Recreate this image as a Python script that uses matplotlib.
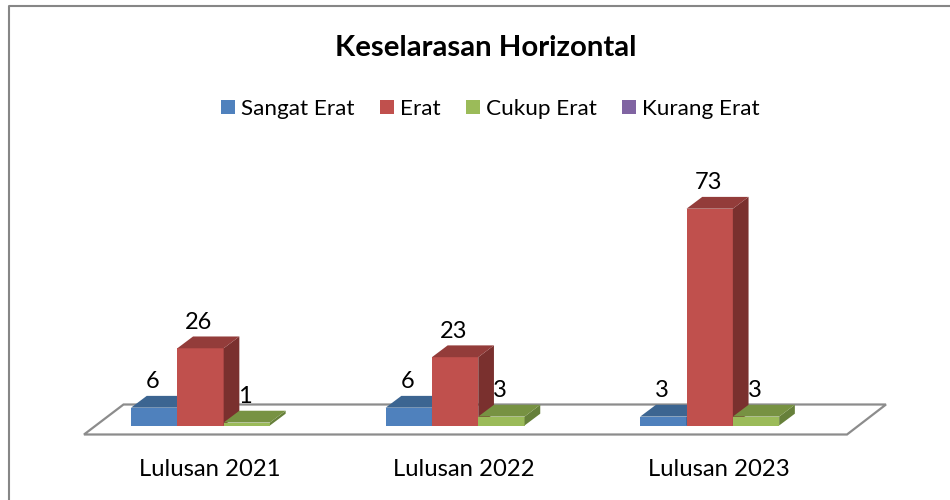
import matplotlib
matplotlib.use("Agg")
import matplotlib.pyplot as plt
from matplotlib.lines import Line2D
from matplotlib.patches import Polygon, Patch

categories = ["Lulusan 2021", "Lulusan 2022", "Lulusan 2023"]
sangat_erat = [6, 6, 3]
erat = [26, 23, 73]
cukup_erat = [1, 3, 3]
kurang_erat = [None, None, None]
title = "Keselarasan Horizontal"

W, H = 950, 500
X0, XS = 200.5, 254.6      # pixel of category 0, pixels per category
Y0, YS = 425.5, 2.97       # pixel of value 0, pixels per unit
BW = 46.3 / XS
DX, DY = 15.7 / XS, 11.8 / YS

series = [
    ("Sangat Erat", sangat_erat, "#4F81BD", "#3C6591", "#2F5078"),
    ("Erat", erat, "#C0504D", "#933C3A", "#7A302E"),
    ("Cukup Erat", cukup_erat, "#9BBB59", "#779242", "#66803A"),
    ("Kurang Erat", kurang_erat, "#8064A2", "#61497D", "#523E6A"),
]

plt.rcParams["font.family"] = ["Lato", "DejaVu Sans"]
fig = plt.figure(figsize=(W / 100, H / 100), dpi=100)
ax = fig.add_axes([0, 0, 1, 1])
ax.set_xlim((0 - X0) / XS, (W - X0) / XS)
ax.set_ylim((Y0 - H) / YS, Y0 / YS)
ax.axis("off")

# outer chart frame: only its left and top edges fall inside the picture
fig.add_artist(Line2D([9 / W, 9 / W, 1], [0, 1 - 6 / H, 1 - 6 / H],
                      transform=fig.transFigure, color="#868686", linewidth=1.5))

# floor
floor = [((84 - X0) / XS, (Y0 - 434.5) / YS), ((123.5 - X0) / XS, (Y0 - 404.5) / YS),
         ((886 - X0) / XS, (Y0 - 404.5) / YS), ((847 - X0) / XS, (Y0 - 434.5) / YS)]
ax.add_patch(Polygon(floor, closed=True, facecolor="white", edgecolor="#8C8C8C",
                     linewidth=1.6, zorder=1))

z = 2
for g, cat in enumerate(categories):
    for s, (name, vals, front, top, side) in enumerate(series[:3]):
        v = vals[g]
        x = g + (s - 1.5) * BW
        ax.bar(x, v, width=BW, align="edge", color=front, linewidth=0, zorder=z)
        ax.add_patch(Polygon([(x + BW, 0), (x + BW + DX, DY), (x + BW + DX, v + DY), (x + BW, v)],
                             closed=True, facecolor=side, edgecolor="none", zorder=z))
        ax.add_patch(Polygon([(x, v), (x + DX, v + DY), (x + BW + DX, v + DY), (x + BW, v)],
                             closed=True, facecolor=top, edgecolor="none", zorder=z))
        ax.text(x + BW / 2 - 1.5 / XS, v + 26 / YS, str(v), ha="center", va="center",
                fontsize=17, color="black", zorder=20)
        z += 1
    ax.text(g + 9 / XS, (Y0 - 469.5) / YS, cat, ha="center", va="center",
            fontsize=17.2, color="black")

fig.text(486 / W, 1 - 48.5 / H, title, ha="center", va="center", fontsize=21.2,
         fontweight="bold", color="black")

handles = [Patch(facecolor=c[2], edgecolor="none", label=c[0]) for c in series]
fig.legend(handles=handles, loc="center", bbox_to_anchor=(490.5 / W, 1 - 109 / H),
           ncol=4, frameon=False, fontsize=16.2, handlelength=0.62, handleheight=0.62,
           handletextpad=0.28, columnspacing=1.12, borderpad=0)

fig.savefig("out.png", dpi=100)
